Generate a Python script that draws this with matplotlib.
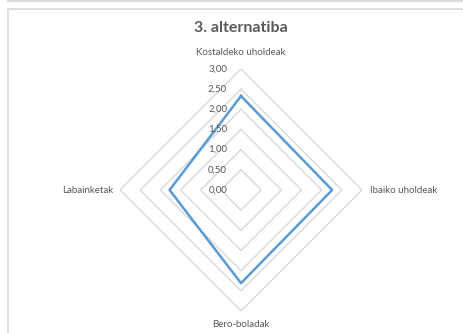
import numpy as np
import matplotlib
matplotlib.use("Agg")
import matplotlib.pyplot as plt
from matplotlib.patches import Rectangle
from matplotlib.lines import Line2D

plt.rcParams['font.family'] = ['Lato', 'DejaVu Sans']

# datuak
kategoriak = ["Kostaldeko uholdeak", "Ibaiko uholdeak", "Bero-boladak", "Labainketak"]
balioak = [2.33, 2.26, 2.31, 1.77]
tick_balioak = [0.0, 0.5, 1.0, 1.5, 2.0, 2.5, 3.0]
tick_testuak = ["0,00", "0,50", "1,00", "1,50", "2,00", "2,50", "3,00"]
izenburua = "3. alternatiba"

GRIS = "#595959"
SAREA = "#d9d9d9"
URDINA = "#5b9bd5"

W, H = 464, 333
fig = plt.figure(figsize=(W / 100, H / 100), dpi=100)

# kanpoko ertzak (Excel grafikoaren markoa)
fig.add_artist(Line2D([8 / W, 1], [1 - 0.8 / H, 1 - 0.8 / H], color="#dcdcdc", lw=1.5))
fig.add_artist(Rectangle((8.5 / W, -0.1), 1.2, 1 - 8.5 / H + 0.1, fill=False,
                         edgecolor="#d9d9d9", lw=1.2))

cx, cy, rad = 241, 190, 121
ax = fig.add_axes([(cx - rad) / W, 1 - (cy + rad) / H, 2 * rad / W, 2 * rad / H],
                  projection="polar")
ax.set_theta_offset(np.pi / 2)
ax.set_theta_direction(-1)
ax.set_ylim(0, 3)
ax.set_axis_off()
ax.patch.set_alpha(0)

n = len(kategoriak)
ang = np.linspace(0, 2 * np.pi, n, endpoint=False)
ang_itxi = np.append(ang, ang[0])

for r in tick_balioak[1:]:
    ax.plot(ang_itxi, [r] * (n + 1), color=SAREA, lw=1.0, zorder=1)

ax.plot(ang_itxi, balioak + balioak[:1], color=URDINA, lw=1.8, zorder=3)

# ardatz-etiketak
for r, t in zip(tick_balioak, tick_testuak):
    ax.annotate(t, xy=(0, r), xytext=(-10, 0), textcoords="offset points",
                ha="right", va="center", fontsize=7, color=GRIS, zorder=4)

# kategoriak
ax.annotate(kategoriak[0], xy=(0, 3), xytext=(0, 12), textcoords="offset points",
            ha="center", va="center", fontsize=7, color=GRIS)
ax.annotate(kategoriak[1], xy=(ang[1], 3), xytext=(6, 0), textcoords="offset points",
            ha="left", va="center", fontsize=7, color=GRIS)
ax.annotate(kategoriak[2], xy=(ang[2], 3), xytext=(0, -10), textcoords="offset points",
            ha="center", va="center", fontsize=7, color=GRIS)
ax.annotate(kategoriak[3], xy=(ang[3], 3), xytext=(-5, 0), textcoords="offset points",
            ha="right", va="center", fontsize=7, color=GRIS)

fig.text(cx / W, 1 - 28 / H, izenburua, ha="center", va="center",
         fontsize=11.5, fontweight="bold", color=GRIS)

fig.savefig("out.png", dpi=100)
